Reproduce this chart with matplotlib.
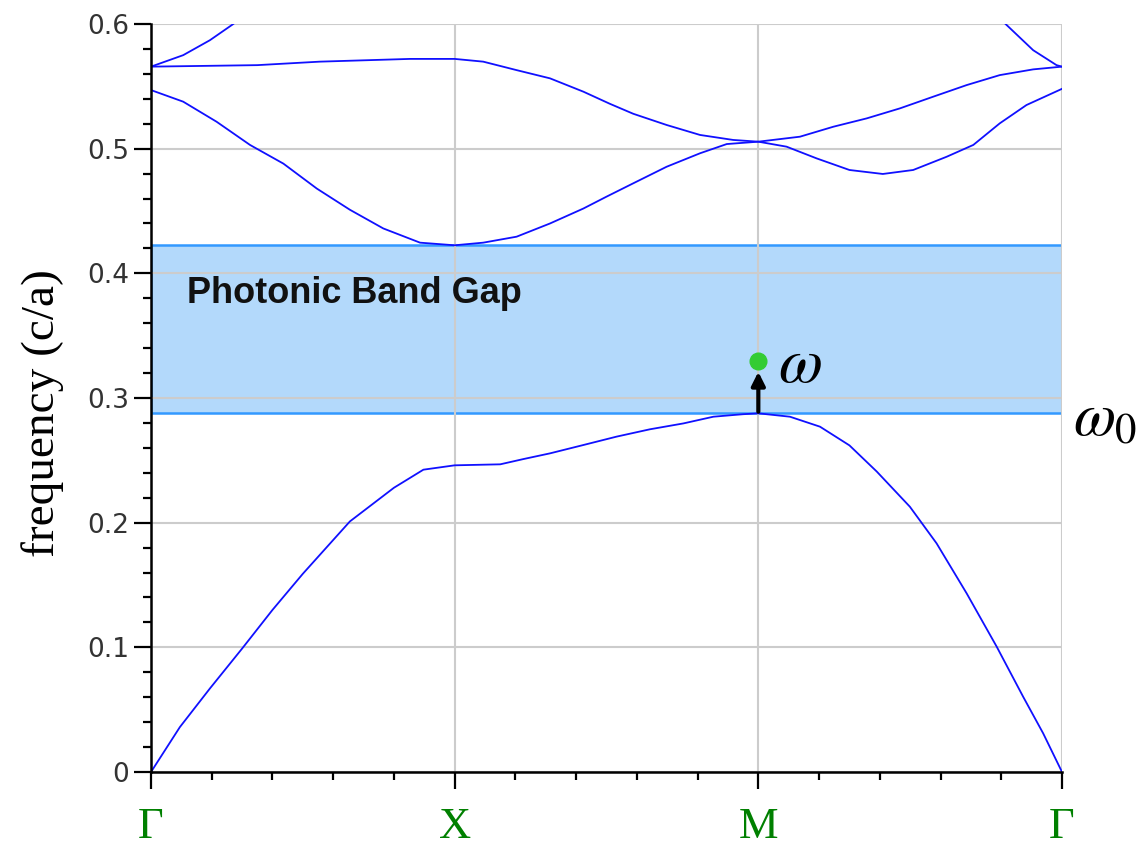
import matplotlib
matplotlib.use("Agg")
import matplotlib.pyplot as plt
import matplotlib.patches as patches
from matplotlib.ticker import MultipleLocator, FuncFormatter
import numpy as np

# k-path positions: Gamma=0, X=1, M=2, Gamma=3
kpoint_pos = [0, 1, 2, 3]
kpoint_labels = ["\u0393", "X", "M", "\u0393"]

# band 1 (lowest)
band1_k = [0, 0.095, 0.194, 0.30, 0.40, 0.50, 0.655, 0.80, 0.897, 1.0,
           1.15, 1.226, 1.314, 1.424, 1.533, 1.643, 1.753, 1.852, 1.95, 2.0,
           2.104, 2.203, 2.30, 2.39, 2.499, 2.587, 2.686, 2.785, 2.872, 2.938, 3.0]
band1_f = [0, 0.036, 0.067, 0.099, 0.130, 0.159, 0.201, 0.228, 0.2425, 0.246,
           0.2468, 0.251, 0.2556, 0.2623, 0.269, 0.2749, 0.2796, 0.285, 0.287, 0.2877,
           0.285, 0.277, 0.262, 0.241, 0.2128, 0.1834, 0.1433, 0.1005, 0.0604, 0.031, 0.0]

# band 2
band2_k = [0, 0.106, 0.216, 0.326, 0.436, 0.546, 0.655, 0.765, 0.886, 1.0,
           1.094, 1.204, 1.314, 1.424, 1.5, 1.588, 1.698, 1.808, 1.896, 2.0,
           2.093, 2.192, 2.30, 2.41, 2.51, 2.62, 2.708, 2.795, 2.883, 3.0]
band2_f = [0.547, 0.5377, 0.5216, 0.503, 0.488, 0.468, 0.451, 0.436, 0.4246, 0.4225,
           0.4246, 0.4294, 0.440, 0.452, 0.4615, 0.4722, 0.4855, 0.4963, 0.5037, 0.5056,
           0.5016, 0.4922, 0.4829, 0.4797, 0.4829, 0.4935, 0.5030, 0.5203, 0.535, 0.548]

# band 3
band3_k = [0, 0.35, 0.556, 0.853, 1.0, 1.094, 1.204, 1.314, 1.424, 1.511,
           1.588, 1.698, 1.808, 1.917, 2.0, 2.137, 2.247, 2.357, 2.466, 2.576,
           2.686, 2.795, 2.905, 3.0]
band3_f = [0.5658, 0.567, 0.5698, 0.572, 0.572, 0.5698, 0.563, 0.5564, 0.5457, 0.536,
           0.528, 0.519, 0.511, 0.507, 0.5056, 0.5096, 0.5176, 0.5243, 0.5323, 0.5417,
           0.551, 0.559, 0.5636, 0.5658]

# band 4 (only the parts below 0.6 are visible)
band4a_k = [0, 0.106, 0.194, 0.271]
band4a_f = [0.5658, 0.575, 0.587, 0.600]
band4b_k = [2.812, 2.905, 2.982, 3.0]
band4b_f = [0.6005, 0.579, 0.567, 0.5658]

gap_bottom = 0.288
gap_top = 0.4226
omega_k = 2.0
omega_f = 0.330

plt.rcParams['mathtext.fontset'] = 'stix'

fig = plt.figure(figsize=(11.48, 8.55), dpi=100)
ax = fig.add_axes([151/1148, 83/855, 911/1148, 748/855])

# band gap box
rect = patches.Rectangle((0, gap_bottom), 3, gap_top - gap_bottom,
                         facecolor='#b3d9fb', edgecolor='#3399ff', lw=1.8, zorder=0.2)
ax.add_patch(rect)

bands = [(band1_k, band1_f), (band2_k, band2_f), (band3_k, band3_f),
         (band4a_k, band4a_f), (band4b_k, band4b_f)]
for k, f in bands:
    ax.plot(k, f, color='#1010ff', lw=1.3, zorder=2)

ax.text(0.12, 0.384, "Photonic Band Gap", fontsize=26, fontweight='bold',
        family='Liberation Sans', va='center', ha='left', color='#111111')

# omega arrow and point
ax.annotate("", xy=(omega_k, omega_f - 0.009), xytext=(omega_k, gap_bottom + 0.001),
            arrowprops=dict(arrowstyle='-|>,head_length=0.8,head_width=0.4',
                            color='black', lw=3, shrinkA=0, shrinkB=0), zorder=4)
ax.plot([omega_k], [omega_f], 'o', color='#33cc33', ms=12, zorder=5)
ax.text(omega_k + 0.065, omega_f - 0.003, r"$\omega$", fontsize=46, va='center', ha='left')
ax.text(3.035, gap_bottom - 0.005, r"$\omega_0$", fontsize=44, va='center', ha='left',
        clip_on=False)

ax.set_xlim(0, 3)
ax.set_ylim(0, 0.6)

ax.set_xticks(kpoint_pos)
ax.set_xticklabels(kpoint_labels, family='Liberation Serif', fontsize=32, color='#008000')
ax.xaxis.set_minor_locator(MultipleLocator(0.2))
ax.yaxis.set_major_locator(MultipleLocator(0.1))
ax.yaxis.set_minor_locator(MultipleLocator(0.02))
ax.yaxis.set_major_formatter(FuncFormatter(lambda v, p: '0' if abs(v) < 1e-9 else f'{v:.1f}'))

ax.tick_params(axis='both', which='major', length=12, width=1.6, direction='out')
ax.tick_params(axis='both', which='minor', length=6, width=1.6, direction='out')
ax.tick_params(axis='y', which='major', labelsize=19, labelcolor='#333333', pad=4)
ax.tick_params(axis='x', which='major', pad=13)

for s in ['top', 'right']:
    ax.spines[s].set_visible(False)
for s in ['left', 'bottom']:
    ax.spines[s].set_linewidth(1.8)
    ax.spines[s].set_zorder(6)

ax.set_axisbelow(True)
ax.grid(True, which='major', color='#cccccc', lw=1.5)

ax.set_ylabel("frequency (c/a)", family='Liberation Serif', fontsize=34)
ax.yaxis.set_label_coords(-0.096, 0.48)

fig.savefig("out.png", dpi=100)
